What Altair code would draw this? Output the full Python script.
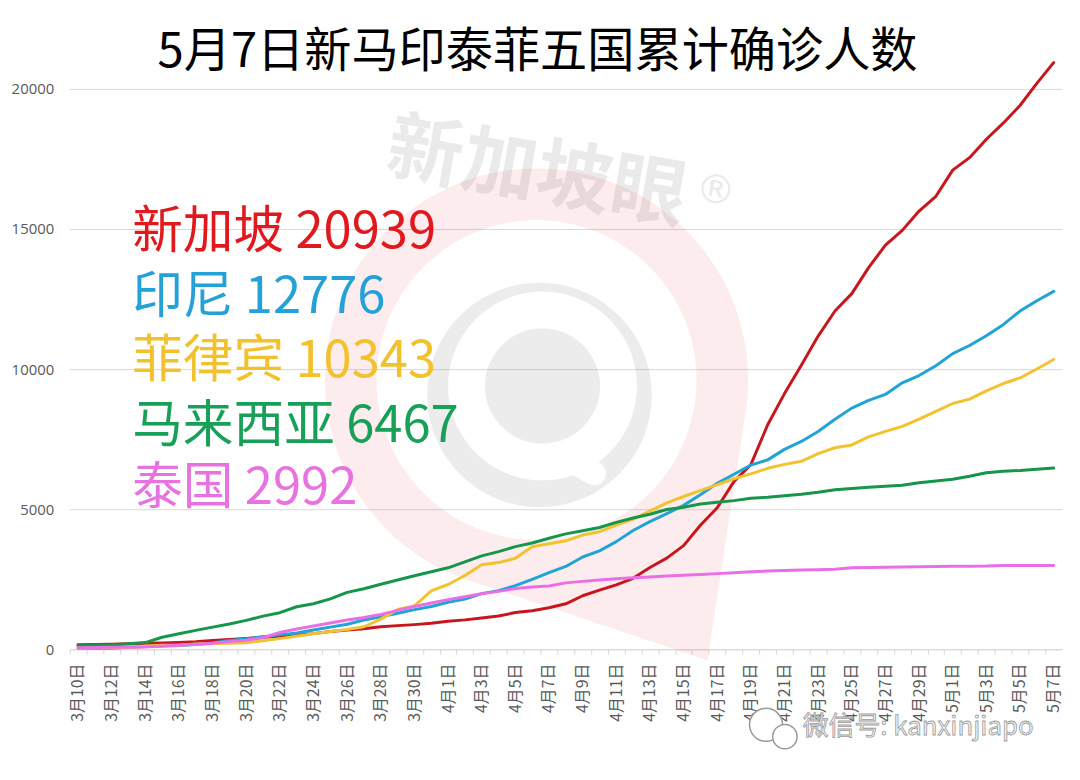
import json
import numpy as np
import pandas as pd
import altair as alt

TITLE = "5月7日新马印泰菲五国累计确诊人数"

DATES = [
    "3月10日", "3月11日", "3月12日", "3月13日", "3月14日", "3月15日", "3月16日", "3月17日",
    "3月18日", "3月19日", "3月20日", "3月21日", "3月22日", "3月23日", "3月24日", "3月25日",
    "3月26日", "3月27日", "3月28日", "3月29日", "3月30日", "3月31日",
    "4月1日", "4月2日", "4月3日", "4月4日", "4月5日", "4月6日", "4月7日", "4月8日",
    "4月9日", "4月10日", "4月11日", "4月12日", "4月13日", "4月14日", "4月15日", "4月16日",
    "4月17日", "4月18日", "4月19日", "4月20日", "4月21日", "4月22日", "4月23日", "4月24日",
    "4月25日", "4月26日", "4月27日", "4月28日", "4月29日", "4月30日",
    "5月1日", "5月2日", "5月3日", "5月4日", "5月5日", "5月6日", "5月7日",
]

COUNTRIES = ["新加坡", "印尼", "菲律宾", "马来西亚", "泰国"]

SINGAPORE = [
    160, 166, 178, 200, 212, 226, 243, 266, 313, 345, 385, 432, 455, 509, 558, 631,
    683, 732, 802, 844, 879, 926,
    1000, 1049, 1114, 1189, 1309, 1375, 1481, 1623, 1910, 2108, 2299, 2532, 2918, 3252,
    3699, 4427, 5050, 5992, 6588, 8014, 9125, 10141, 11178, 12075, 12693, 13624, 14423,
    14951, 15641, 16169,
    17101, 17548, 18205, 18778, 19410, 20198, 20939,
]
INDONESIA = [
    27, 34, 34, 69, 96, 117, 134, 172, 227, 309, 369, 450, 514, 579, 686, 790,
    893, 1046, 1155, 1285, 1414, 1528,
    1677, 1790, 1986, 2092, 2273, 2491, 2738, 2956, 3293, 3512, 3842, 4241, 4557, 4839,
    5136, 5516, 5923, 6248, 6575, 6760, 7135, 7418, 7775, 8211, 8607, 8882, 9096,
    9511, 9771, 10118,
    10551, 10843, 11192, 11587, 12071, 12438, 12776,
]
PHILIPPINES = [
    33, 49, 52, 64, 111, 140, 142, 187, 202, 217, 230, 307, 380, 462, 552, 636,
    707, 803, 1075, 1418, 1546, 2084,
    2311, 2633, 3018, 3094, 3246, 3660, 3764, 3870, 4076, 4195, 4428, 4648, 4932, 5223,
    5453, 5660, 5878, 6087, 6259, 6459, 6599, 6710, 6981, 7192, 7294, 7579, 7777,
    7958, 8212, 8488,
    8772, 8928, 9223, 9485, 9684, 10004, 10343,
]
MALAYSIA = [
    129, 149, 158, 197, 238, 428, 553, 673, 790, 900, 1030, 1183, 1306, 1518, 1624, 1796,
    2031, 2161, 2320, 2470, 2626, 2766,
    2908, 3116, 3333, 3483, 3662, 3793, 3963, 4119, 4228, 4346, 4530, 4683, 4817, 4987,
    5072, 5182, 5251, 5305, 5389, 5425, 5482, 5532, 5603, 5691, 5742, 5780, 5820,
    5851, 5945, 6002,
    6071, 6176, 6298, 6353, 6383, 6428, 6467,
]
THAILAND = [
    53, 59, 70, 75, 82, 114, 147, 177, 212, 272, 322, 411, 599, 721, 827, 934,
    1045, 1136, 1245, 1388, 1524, 1651,
    1771, 1875, 1978, 2067, 2169, 2220, 2258, 2369, 2423, 2473, 2518, 2551, 2579, 2613,
    2643, 2672, 2700, 2733, 2765, 2792, 2811, 2826, 2839, 2854, 2907, 2922, 2931,
    2938, 2947, 2954,
    2960, 2966, 2969, 2987, 2988, 2989, 2992,
]

SERIES = [SINGAPORE, INDONESIA, PHILIPPINES, MALAYSIA, THAILAND]
LINE_COLORS = ["#c8161e", "#20a3d6", "#f2c230", "#15964a", "#ea6fe6"]
TEXT_COLORS = ["#e0191f", "#24a2d8", "#f2c12e", "#18a058", "#e872e0"]
Y_TICKS = [0, 5000, 10000, 15000, 20000]

CJK = "Noto Sans CJK SC"

# ---- layout ----
W, H = 999, 564
PAD_L, PAD_T = 62, 79
OX, OY = PAD_L + 8, PAD_T + 8


def px(x):
    return x - OX


def py(y):
    return y - OY


# ---- data table ----
rows = []
for name, vals in zip(COUNTRIES, SERIES):
    for d, v in zip(DATES, vals):
        rows.append({"date": d, "country": name, "cases": v})
df = pd.DataFrame(rows)

shown = DATES[::2]
label_expr = "indexof(" + json.dumps(shown, ensure_ascii=False) + ", datum.value) >= 0 ? datum.value : ''"
step = W / len(DATES)

x_enc = alt.X(
    "date:O",
    sort=DATES,
    scale=alt.Scale(type="point", domain=DATES, padding=0.5),
    axis=alt.Axis(
        values=DATES, labelExpr=label_expr, labelAngle=270, labelFont=CJK,
        labelFontSize=16, labelColor="#595959", tickColor="#d9d9d9", tickSize=5,
        tickOffset=-step / 2, labelOffset=step / 2, domainColor="#d9d9d9",
        labelPadding=9, title=None, grid=False, labelOverlap=False,
    ),
)
y_enc = alt.Y(
    "cases:Q",
    scale=alt.Scale(domain=[0, 20000], nice=False, zero=True),
    axis=alt.Axis(
        values=Y_TICKS, title=None, domain=False, ticks=False, labelFont="Open Sans",
        labelFontSize=15, labelColor="#595959", labelPadding=16, gridColor="#d9d9d9",
        gridWidth=1, format="d",
    ),
)

lines = alt.Chart(df).mark_line(strokeWidth=3, strokeJoin="round", strokeCap="round").encode(
    x=x_enc,
    y=y_enc,
    color=alt.Color("country:N", scale=alt.Scale(domain=COUNTRIES, range=LINE_COLORS), legend=None),
)

# ---- watermark (decorative) ----
L = 400.0


def path_from(contours, cx, cy):
    parts = []
    for pts in contours:
        seg = []
        for i, (x, y) in enumerate(pts):
            seg.append(("M" if i == 0 else "L") + f"{(x - cx) / L:.4f},{(y - cy) / L:.4f}")
        parts.append("".join(seg) + "Z")
    return "".join(parts)


def arc(cx, cy, r, a0, a1, n=120):
    a = np.linspace(a0, a1, n)
    return list(zip(cx + r * np.cos(a), cy + r * np.sin(a)))


PC = (540.0, 380.0)
PR = 213.0
TIP = (712.0, 662.0)
d = np.hypot(TIP[0] - PC[0], TIP[1] - PC[1])
dir_a = np.arctan2(TIP[1] - PC[1], TIP[0] - PC[0])
half = np.arccos(PR / d)
outer = arc(PC[0], PC[1], PR, dir_a - half, dir_a + half - 2 * np.pi) + [TIP]
inner = arc(PC[0], PC[1], 161.0, 0, 2 * np.pi)
pin_path = path_from([outer, inner], PC[0], PC[1])

GC = (543.0, 395.0)
RC = (546.0, 386.0)
g_outer = arc(GC[0], GC[1], 113.0, 2 * np.pi, 0)
g_ring = arc(RC[0], RC[1], 95.0, 0, 2 * np.pi)
g_in = arc(RC[0], RC[1], 58.0, 2 * np.pi, 0)
grey_path = path_from([g_outer, g_ring, g_in], GC[0], GC[1])

one = pd.DataFrame({"k": [0]})
pin = alt.Chart(one).mark_point(
    shape=pin_path, size=(2 * L) ** 2, filled=True, color="#e60012", opacity=0.075, strokeWidth=0
).encode(x=alt.value(px(PC[0])), y=alt.value(py(PC[1])))
grey = alt.Chart(one).mark_point(
    shape=grey_path, size=(2 * L) ** 2, filled=True, color="#000000", opacity=0.075, strokeWidth=0
).encode(x=alt.value(px(GC[0])), y=alt.value(py(GC[1])))
qbar = alt.Chart(one).mark_rule(color="#ffffff", strokeWidth=24, strokeCap="round").encode(
    x=alt.value(px(562)), x2=alt.value(px(598)), y=alt.value(py(454)), y2=alt.value(py(474))
)

wm = alt.Chart(pd.DataFrame({"t": ["新加坡眼"]})).mark_text(
    font=CJK, fontSize=76, fontWeight="bold", angle=10, color="#000000", opacity=0.08,
    align="center", baseline="middle",
).encode(text="t:N", x=alt.value(px(540)), y=alt.value(py(173)))
wm_r = alt.Chart(pd.DataFrame({"t": ["®"]})).mark_text(
    font="DejaVu Sans", fontSize=40, color="#000000", opacity=0.08, align="center", baseline="middle", angle=10,
).encode(text="t:N", x=alt.value(px(720)), y=alt.value(py(190)))

wechat = alt.Chart(pd.DataFrame({"t": ["微信号: kanxinjiapo"]})).mark_text(
    font=CJK, fontSize=26, color="#f4f4f4", stroke="#9a9a9a", strokeWidth=0.8,
    align="left", baseline="middle",
).encode(text="t:N", x=alt.value(px(808)), y=alt.value(py(729)))
bub = pd.DataFrame({"cx": [px(771), px(790)], "cy": [py(727), py(739)], "s": [1100, 600]})
bubbles = alt.Chart(bub).mark_point(filled=False, stroke="#9a9a9a", strokeWidth=1.5, fill="#ffffff", fillOpacity=1).encode(
    x=alt.X("cx:Q", scale=None), y=alt.Y("cy:Q", scale=None), size=alt.Size("s:Q", scale=None, legend=None)
)

# ---- annotations ----
LEG_Y = [232, 298, 362, 427, 490]
labels = []
for i, (name, vals) in enumerate(zip(COUNTRIES, SERIES)):
    labels.append(
        alt.Chart(pd.DataFrame({"t": [f"{name} {vals[-1]}"]})).mark_text(
            font=CJK, fontSize=51, color=TEXT_COLORS[i], align="left", baseline="middle"
        ).encode(text="t:N", x=alt.value(px(133)), y=alt.value(py(LEG_Y[i])))
    )

title = alt.Chart(pd.DataFrame({"t": [TITLE]})).mark_text(
    font=CJK, fontSize=47.5, color="#000000", align="center", baseline="middle"
).encode(text="t:N", x=alt.value(px(541)), y=alt.value(py(51)))

chart = alt.layer(pin, grey, qbar, wm, wm_r, lines, *labels, title, bubbles, wechat).properties(
    width=W,
    height=H,
    padding={"left": PAD_L, "top": PAD_T, "right": 10, "bottom": 110},
    autosize=alt.AutoSizeParams(type="none"),
    background="#ffffff",
).configure_view(stroke=None)

chart.save("out.html", embed_options={"renderer": "svg", "actions": False})
